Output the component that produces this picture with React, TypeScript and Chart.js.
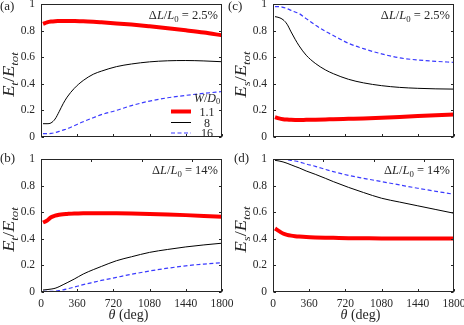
import React, { useEffect, useRef } from 'react';
import { Chart, registerables } from 'chart.js';

Chart.register(...registerables);

// ---------- data ----------
const thetaDeg = [20, 60, 100, 140, 180, 220, 260, 330, 420, 520, 600, 750, 900, 1080, 1260, 1440, 1620, 1800];
const xTickValues = [0, 360, 720, 1080, 1440, 1800];
const xTopTickValues = [500, 1000, 1500];
const yTickValues = [0, 0.2, 0.4, 0.6, 0.8, 1];
const widthRatioLabels = ['1.1', '8', '16'];
const strainLabels = ['2.5%', '14%'];

// (a) E_t/E_tot, dL/L0 = 2.5%
const a_W11 = [0.850, 0.862, 0.868, 0.871, 0.872, 0.873, 0.873, 0.872, 0.870, 0.866, 0.862, 0.854, 0.845, 0.832, 0.818, 0.802, 0.785, 0.765];
const a_W8 = [0.100, 0.100, 0.106, 0.135, 0.190, 0.250, 0.300, 0.365, 0.425, 0.472, 0.495, 0.529, 0.549, 0.565, 0.573, 0.575, 0.572, 0.566];
const a_W16 = [0.025, 0.025, 0.027, 0.033, 0.042, 0.052, 0.062, 0.085, 0.115, 0.145, 0.168, 0.200, 0.236, 0.270, 0.295, 0.313, 0.328, 0.342];
// (b) E_t/E_tot, dL/L0 = 14%
const b_W11 = [0.522, 0.537, 0.562, 0.574, 0.581, 0.585, 0.587, 0.590, 0.592, 0.593, 0.593, 0.592, 0.590, 0.587, 0.583, 0.578, 0.572, 0.565];
const b_W8 = [0.015, 0.018, 0.022, 0.028, 0.040, 0.055, 0.070, 0.097, 0.135, 0.168, 0.192, 0.235, 0.265, 0.298, 0.320, 0.339, 0.354, 0.367];
const b_W16 = [0.005, 0.005, 0.005, 0.006, 0.010, 0.016, 0.023, 0.037, 0.055, 0.073, 0.087, 0.110, 0.133, 0.158, 0.179, 0.197, 0.210, 0.220];
// (c) E_s/E_tot, dL/L0 = 2.5%
const c_W11 = [0.150, 0.140, 0.134, 0.131, 0.129, 0.128, 0.128, 0.129, 0.130, 0.132, 0.134, 0.137, 0.140, 0.145, 0.151, 0.157, 0.163, 0.170];
const c_W8 = [0.905, 0.898, 0.882, 0.848, 0.790, 0.735, 0.685, 0.615, 0.554, 0.505, 0.476, 0.434, 0.407, 0.386, 0.373, 0.366, 0.362, 0.360];
const c_W16 = [0.980, 0.980, 0.975, 0.965, 0.952, 0.940, 0.928, 0.890, 0.842, 0.795, 0.763, 0.705, 0.664, 0.625, 0.595, 0.579, 0.569, 0.561];
// (d) E_s/E_tot, dL/L0 = 14%
const d_W11 = [0.477, 0.458, 0.440, 0.430, 0.424, 0.420, 0.417, 0.413, 0.410, 0.408, 0.407, 0.405, 0.404, 0.403, 0.403, 0.403, 0.403, 0.403];
const d_W8 = [0.990, 0.985, 0.978, 0.968, 0.956, 0.944, 0.933, 0.910, 0.885, 0.855, 0.830, 0.787, 0.748, 0.705, 0.676, 0.648, 0.620, 0.592];
const d_W16 = [1.000, 1.000, 0.998, 0.995, 0.990, 0.985, 0.978, 0.962, 0.945, 0.922, 0.905, 0.877, 0.855, 0.830, 0.805, 0.780, 0.757, 0.735];

// ---------- styles ----------
const FONT = '"Liberation Serif", "Times New Roman", serif';
const TEXT = '#262626';
const AXIS = '#262626';
const SERIES_STYLE = [
  { color: '#ff0000', width: 4, dash: [] as number[] },
  { color: '#000000', width: 1, dash: [] as number[] },
  { color: '#3a3aff', width: 1.2, dash: [4, 2.5] },
];

type Run = { t: string; it?: boolean; sub?: boolean };

function drawRich(
  ctx: CanvasRenderingContext2D, runs: Run[], x: number, y: number, size: number,
  align: 'left' | 'center' | 'right', rotate = false, stretch = 1,
) {
  const fontOf = (r: Run) => `${r.it ? 'italic ' : ''}${r.sub ? size * 0.7 : size}px ${FONT}`;
  let w = 0;
  const ws = runs.map((r) => { ctx.font = fontOf(r); const m = ctx.measureText(r.t).width; w += m; return m; });
  ctx.save();
  ctx.translate(x, y);
  if (rotate) ctx.rotate(-Math.PI / 2);
  ctx.scale(stretch, 1);
  let cx = align === 'left' ? 0 : align === 'center' ? -w / 2 : -w;
  ctx.textBaseline = 'alphabetic';
  ctx.textAlign = 'left';
  ctx.fillStyle = TEXT;
  runs.forEach((r, i) => {
    ctx.font = fontOf(r);
    ctx.fillText(r.t, cx, r.sub ? size * 0.22 : 0);
    cx += ws[i];
  });
  ctx.restore();
}

type Panel = {
  key: string; L: number; R: number; T: number; B: number;
  label: string; labelX: number; labelY: number;
  ySub: string; strain: string; series: number[][];
  legend: boolean; xLabels: boolean; topTicks: boolean;
};

const PANELS: Panel[] = [
  { key: 'a', L: 41, R: 222, T: 4, B: 137, label: '(a)', labelX: 0, labelY: 10, ySub: 't', strain: strainLabels[0], series: [a_W11, a_W8, a_W16], legend: true, xLabels: false, topTicks: false },
  { key: 'b', L: 41, R: 222, T: 159, B: 292, label: '(b)', labelX: 0, labelY: 161.5, ySub: 't', strain: strainLabels[1], series: [b_W11, b_W8, b_W16], legend: false, xLabels: true, topTicks: true },
  { key: 'c', L: 273, R: 454, T: 4, B: 137, label: '(c)', labelX: 228, labelY: 10, ySub: 's', strain: strainLabels[0], series: [c_W11, c_W8, c_W16], legend: false, xLabels: false, topTicks: false },
  { key: 'd', L: 273, R: 454, T: 159, B: 292, label: '(d)', labelX: 234, labelY: 161.5, ySub: 's', strain: strainLabels[1], series: [d_W11, d_W8, d_W16], legend: false, xLabels: true, topTicks: true },
];

const Y_AXIS_W = 30;
const X_AXIS_H = 20;

function zeroPad(s: any) {
  s.paddingTop = 0; s.paddingBottom = 0; s.paddingLeft = 0; s.paddingRight = 0;
}

function makeConfig(p: Panel): any {
  const framePlugin = {
    id: 'frame_' + p.key,
    afterDraw(chart: any) {
      const ctx: CanvasRenderingContext2D = chart.ctx;
      const { left, right, top, bottom } = chart.chartArea;
      const xs = chart.scales.x;
      const ys = chart.scales.y;
      const l = Math.round(left) + 0.5;
      const r = Math.round(right) - 0.5;
      const t = Math.round(top) + 0.5;
      const b = Math.round(bottom) - 0.5;
      ctx.save();
      ctx.strokeStyle = AXIS;
      ctx.lineWidth = 1;
      ctx.setLineDash([]);
      ctx.strokeRect(l, t, r - l, b - t);
      const TL = 2.5;
      ctx.beginPath();
      xTickValues.forEach((v) => {
        const px = Math.round(xs.getPixelForValue(v)) + 0.5;
        ctx.moveTo(px, b); ctx.lineTo(px, b - TL);
      });
      if (p.topTicks) {
        xTopTickValues.forEach((v) => {
          const px = Math.round(xs.getPixelForValue(v)) + 0.5;
          ctx.moveTo(px, t); ctx.lineTo(px, t + TL);
        });
      }
      yTickValues.forEach((v) => {
        const py = Math.round(ys.getPixelForValue(v)) + 0.5;
        ctx.moveTo(l, py); ctx.lineTo(l + TL, py);
        ctx.moveTo(r, py); ctx.lineTo(r - TL, py);
      });
      ctx.stroke();

      // panel label
      ctx.fillStyle = TEXT;
      ctx.font = `13px ${FONT}`;
      ctx.textAlign = 'left';
      ctx.textBaseline = 'alphabetic';
      ctx.fillText(p.label, p.labelX, p.labelY);

      // y axis title
      const midY = (top + bottom) / 2 + 4;
      drawRich(ctx, [
        { t: 'E', it: true }, { t: p.ySub, it: true, sub: true },
        { t: '/' }, { t: 'E', it: true }, { t: 'tot', it: true, sub: true },
      ], left - 27, midY, 16, 'center', true, 1.15);

      // strain annotation
      drawRich(ctx, [
        { t: '\u0394' }, { t: 'L', it: true }, { t: '/' }, { t: 'L', it: true },
        { t: '0', sub: true }, { t: ' = ' + p.strain },
      ], right - 4, top + 15, 12.5, 'right');

      // x title
      if (p.xLabels) {
        drawRich(ctx, [{ t: '\u03b8', it: true }, { t: ' (deg)' }], (left + right) / 2 - 3, 319, 14, 'center');
      }

      // legend
      if (p.legend) {
        const cx = right - 15;
        drawRich(ctx, [{ t: 'W', it: true }, { t: '/' }, { t: 'D', it: true }, { t: '0', sub: true }], cx, top + 97.5, 12, 'center');
        const rows = [top + 107.5, top + 118.5, top + 129];
        widthRatioLabels.forEach((lab, i) => {
          const st = SERIES_STYLE[i];
          ctx.save();
          ctx.strokeStyle = st.color;
          ctx.lineWidth = st.width;
          ctx.setLineDash(st.dash);
          ctx.beginPath();
          ctx.moveTo(left + 130, rows[i]);
          ctx.lineTo(left + 150, rows[i]);
          ctx.stroke();
          ctx.restore();
          ctx.fillStyle = TEXT;
          ctx.font = `12px ${FONT}`;
          ctx.textAlign = 'center';
          ctx.textBaseline = 'alphabetic';
          ctx.fillText(lab, cx, rows[i] + 4);
        });
      }
      ctx.restore();
    },
  };

  return {
    type: 'line',
    data: {
      datasets: p.series.map((vals, i) => ({
        label: 'W/D0 = ' + widthRatioLabels[i],
        data: thetaDeg.map((x, j) => ({ x, y: vals[j] })),
        borderColor: SERIES_STYLE[i].color,
        borderWidth: SERIES_STYLE[i].width,
        borderDash: SERIES_STYLE[i].dash,
        pointRadius: 0,
        fill: false,
        cubicInterpolationMode: 'monotone',
      })),
    },
    options: {
      animation: false,
      responsive: false,
      maintainAspectRatio: false,
      events: [],
      layout: {
        padding: {
          left: p.L - Y_AXIS_W,
          right: 464 - p.R,
          top: p.T,
          bottom: 325 - p.B - X_AXIS_H,
        },
      },
      plugins: { legend: { display: false }, tooltip: { enabled: false }, title: { display: false } },
      scales: {
        x: {
          type: 'linear',
          min: 0,
          max: 1800,
          afterBuildTicks: (s: any) => { s.ticks = xTickValues.map((v) => ({ value: v })); },
          afterFit: (s: any) => { s.height = X_AXIS_H; zeroPad(s); },
          ticks: {
            display: p.xLabels,
            autoSkip: false,
            maxRotation: 0,
            padding: 5,
            color: TEXT,
            font: { family: FONT, size: 11.5 },
            callback: (v: any) => String(v),
          },
          grid: { display: false, drawTicks: false },
          border: { display: false },
        },
        y: {
          type: 'linear',
          min: 0,
          max: 1,
          afterBuildTicks: (s: any) => { s.ticks = yTickValues.map((v) => ({ value: v })); },
          afterFit: (s: any) => { s.width = Y_AXIS_W; zeroPad(s); },
          ticks: {
            padding: 6,
            color: TEXT,
            font: { family: FONT, size: 11.5 },
            callback: (v: any) => String(v),
          },
          grid: { display: false, drawTicks: false },
          border: { display: false },
        },
      },
    },
    plugins: [framePlugin],
  };
}

export default function App() {
  const r0 = useRef<HTMLCanvasElement>(null);
  const r1 = useRef<HTMLCanvasElement>(null);
  const r2 = useRef<HTMLCanvasElement>(null);
  const r3 = useRef<HTMLCanvasElement>(null);
  const refs = [r0, r1, r2, r3];

  useEffect(() => {
    const charts = PANELS.map((p, i) => new Chart(refs[i].current as HTMLCanvasElement, makeConfig(p)));
    return () => charts.forEach((c) => c.destroy());
  }, []);

  return (
    <div style={{ position: 'absolute', left: 0, top: 0, width: 464, height: 325, background: '#fff' }}>
      {PANELS.map((p, i) => (
        <canvas key={p.key} ref={refs[i]} width={464} height={325}
          style={{ position: 'absolute', left: 0, top: 0, pointerEvents: 'none' }} />
      ))}
    </div>
  );
}
